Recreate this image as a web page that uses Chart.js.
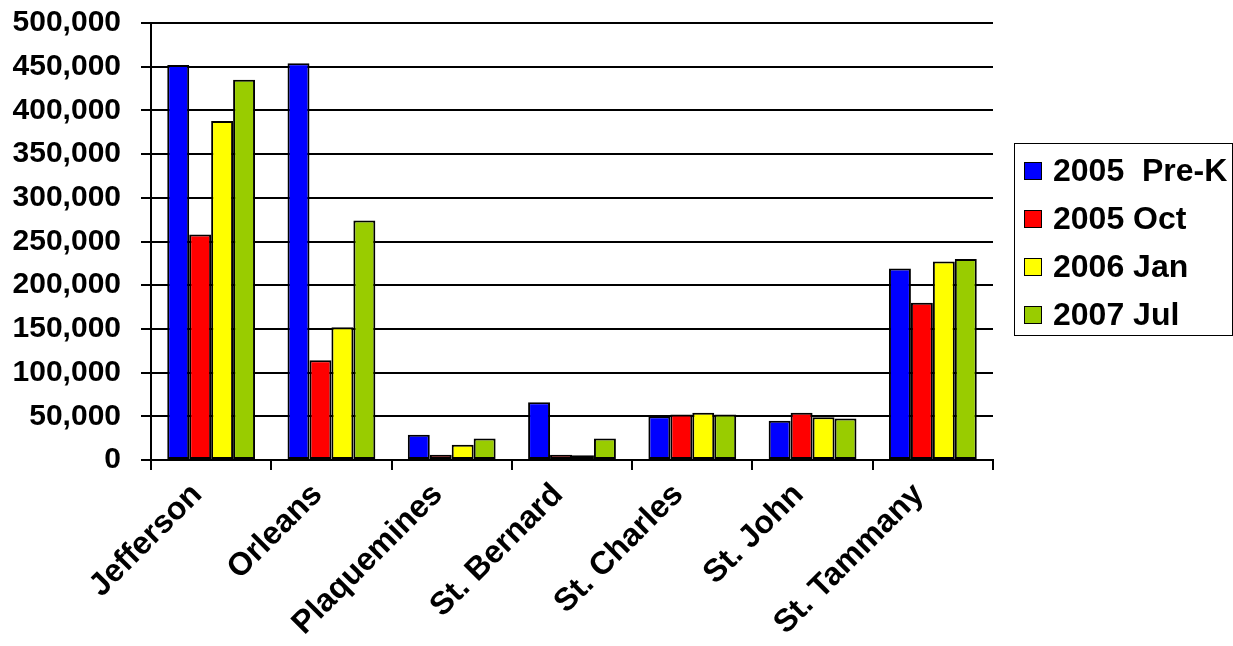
<!DOCTYPE html>
<html>
<head>
<meta charset="utf-8">
<script src="https://cdn.jsdelivr.net/npm/chart.js@4/dist/chart.umd.min.js"></script>
<style>
  html, body { margin: 0; padding: 0; background: #fff; }
  #wrap { position: relative; width: 1233px; height: 646px; }
  #legend {
    position: absolute; left: 1014px; top: 143px; width: 219px; height: 193px;
    border: 1.5px solid #000; box-sizing: border-box;
    font: bold 32px "Liberation Sans", Arial, sans-serif; color: #000;
    padding-top: 2px;
  }
  #legend div { height: 48px; line-height: 48px; padding-left: 9px; white-space: pre; }
  #legend span {
    display: inline-block; width: 16px; height: 16px; border: 1.5px solid #000;
    margin-right: 11px; vertical-align: 1px;
  }
</style>
</head>
<body>
<div id="wrap">
  <canvas id="chart" width="1233" height="646"></canvas>
  <div id="legend"></div>
</div>
<script>
// Dữ liệu
const parishes = ['Jefferson', 'Orleans', 'Plaquemines', 'St. Bernard', 'St. Charles', 'St. John', 'St. Tammany'];
const seriesNames = ['2005  Pre-K', '2005 Oct', '2006 Jan', '2007 Jul'];
const prek2005 = [452000, 454000, 29000, 66000, 50000, 45000, 219000];
const oct2005 = [258000, 114000, 6000, 6000, 52000, 54000, 180000];
const jan2006 = [388000, 152000, 17500, 5500, 54000, 49000, 227000];
const jul2007 = [435000, 274000, 24500, 24500, 52000, 47500, 230000];
const colors = ['#0000ff', '#ff0000', '#ffff00', '#99cc00'];

const font = 'Liberation Sans, Arial, sans-serif';
const allSeries = [prek2005, oct2005, jan2006, jul2007];

const ctx = document.getElementById('chart').getContext('2d');
const chart = new Chart(ctx, {
    type: 'bar',
    data: {
        labels: parishes,
        datasets: allSeries.map((d, i) => ({
            label: seriesNames[i],
            data: d,
            backgroundColor: colors[i],
            borderColor: '#000',
            borderWidth: 2,
            borderSkipped: false,
            categoryPercentage: 0.73,
            barPercentage: 1.0
        }))
    },
    options: {
        responsive: false,
        animation: false,
        devicePixelRatio: 1,
        layout: { padding: { top: 23, right: 240, left: 0, bottom: 0 } },
        plugins: {
            legend: { display: false },
            tooltip: { enabled: false }
        },
        scales: {
            x: {
                afterFit: s => { s.height = 186; s.paddingLeft = 0; s.paddingRight = 0; },
                grid: { drawOnChartArea: false, color: '#000', lineWidth: 2, tickLength: 10, offset: true },
                border: { color: '#000', width: 2 },
                ticks: {
                    color: '#000', maxRotation: 45, minRotation: 45, padding: 6, labelOffset: -14,
                    font: { family: font, size: 32, weight: 'bold' }
                }
            },
            y: {
                min: 0, max: 500000,
                afterFit: s => { s.width = 151; s.paddingTop = 0; s.paddingBottom = 0; },
                grid: { color: '#000', lineWidth: 2, tickLength: 10 },
                border: { color: '#000', width: 2 },
                ticks: {
                    stepSize: 50000, color: '#000', padding: 20,
                    font: { family: font, size: 30, weight: 'bold' },
                    callback: v => v.toLocaleString('en-US')
                }
            }
        }
    }
});

// Chú thích
const legend = document.getElementById('legend');
seriesNames.forEach((name, i) => {
    const row = document.createElement('div');
    const box = document.createElement('span');
    box.style.background = colors[i];
    row.appendChild(box);
    row.appendChild(document.createTextNode(name));
    legend.appendChild(row);
});
</script>
</body>
</html>
